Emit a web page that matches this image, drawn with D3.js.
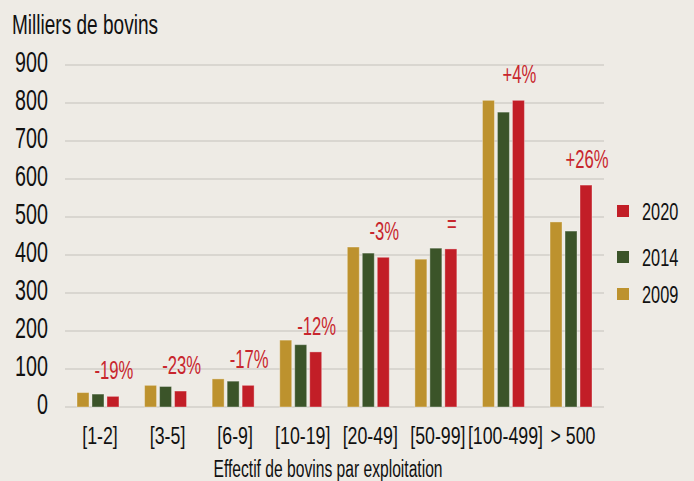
<!DOCTYPE html>
<html>
<head>
<meta charset="utf-8">
<script src="https://cdn.jsdelivr.net/npm/d3@7"></script>
<style>
  body { margin: 0; background: #eeebe5; }
  svg text { font-family: "Liberation Sans", Arimo, sans-serif; }
</style>
</head>
<body>
<div id="chart"></div>
<script>
// categories and series (milliers de bovins)
const categories = ["[1-2]", "[3-5]", "[6-9]", "[10-19]", "[20-49]", "[50-99]", "[100-499]", "> 500"];
const years = ["2009", "2014", "2020"];
const values2009 = [38, 57, 74, 176, 421, 389, 807, 487];
const values2014 = [34, 54, 68, 164, 405, 418, 776, 463];
const values2020 = [28, 42, 57, 145, 394, 416, 807, 584];
const changeLabels = ["-19%", "-23%", "-17%", "-12%", "-3%", "=", "+4%", "+26%"];
const yTicks = [0, 100, 200, 300, 400, 500, 600, 700, 800, 900];
const colors = { "2009": "#bd922e", "2014": "#3b5429", "2020": "#c21e27" };

const series = { "2009": values2009, "2014": values2014, "2020": values2020 };

const width = 694, height = 481;
const margin = { top: 65, right: 90, bottom: 74, left: 65 };
const innerW = width - margin.left - margin.right;
const innerH = height - margin.top - margin.bottom;

// the original uses a condensed face: squeeze text horizontally
const SX = 0.68;

const svg = d3.select("#chart")
  .append("svg")
  .attr("width", width)
  .attr("height", height)
  .style("background", "#eeebe5");

const g = svg.append("g")
  .attr("transform", `translate(${margin.left},${margin.top})`);

const y = d3.scaleLinear().domain([0, 900]).range([innerH, 0]);

const x = d3.scaleBand()
  .domain(categories)
  .range([12, 527])
  .paddingInner(0.379)
  .paddingOuter(0);

const xSub = d3.scaleBand()
  .domain(years)
  .range([0, x.bandwidth()])
  .paddingInner(0.2);

// grid lines
g.append("g")
  .selectAll("line")
  .data(yTicks)
  .join("line")
  .attr("x1", 0)
  .attr("x2", innerW)
  .attr("y1", d => y(d))
  .attr("y2", d => y(d))
  .attr("stroke", "#d9d6d0")
  .attr("stroke-width", 2);

// y tick labels
const yAxis = d3.axisLeft(y).tickValues(yTicks).tickSize(0).tickPadding(17);
const yg = g.append("g").call(yAxis);
yg.select(".domain").remove();
yg.selectAll("text")
  .attr("font-size", 29)
  .attr("font-family", null)
  .attr("x", -17 / SX)
  .attr("dy", "0.36em")
  .attr("y", -4)
  .attr("transform", `scale(${SX},1)`)
  .attr("fill", "#111");

// bars
const groups = g.append("g")
  .selectAll("g")
  .data(categories)
  .join("g")
  .attr("transform", d => `translate(${x(d)},0)`);

groups.selectAll("rect")
  .data((c, i) => years.map(yr => ({ year: yr, value: series[yr][i] })))
  .join("rect")
  .attr("x", d => xSub(d.year))
  .attr("width", xSub.bandwidth())
  .attr("y", d => y(d.value))
  .attr("height", d => y(0) - y(d.value))
  .attr("fill", d => colors[d.year])
  .attr("stroke", "rgba(255,255,255,0.35)")
  .attr("stroke-width", 1);

// change labels above 2020 bars
groups.append("text")
  .attr("transform", (c, i) =>
    `translate(${xSub("2020") + xSub.bandwidth() / 2 + 1},${y(values2020[i]) - 17}) scale(0.64,1)`)
  .attr("text-anchor", "middle")
  .attr("font-size", 26)
  .attr("fill", "#c8262d")
  .text((c, i) => changeLabels[i]);

// x tick labels
const xAxis = d3.axisBottom(x).tickSize(0).tickPadding(20);
const xg = g.append("g").attr("transform", `translate(2,${innerH})`).call(xAxis);
xg.select(".domain").remove();
xg.selectAll("text")
  .attr("font-size", 24)
  .attr("font-family", null)
  .attr("transform", "scale(0.74,1)")
  .attr("fill", "#111");

// titles
svg.append("text")
  .attr("transform", `translate(12,34) scale(${SX},1)`)
  .attr("font-size", 28)
  .attr("fill", "#111")
  .text("Milliers de bovins");

svg.append("text")
  .attr("transform", `translate(328,477) scale(${SX},1)`)
  .attr("text-anchor", "middle")
  .attr("font-size", 23)
  .attr("fill", "#111")
  .text("Effectif de bovins par exploitation");

// legend
const legendYears = ["2020", "2014", "2009"];
const legendY = [211, 257, 294];
const legend = svg.append("g")
  .selectAll("g")
  .data(legendYears)
  .join("g")
  .attr("transform", (d, i) => `translate(617,${legendY[i]})`);

legend.append("rect")
  .attr("x", 0)
  .attr("y", -6)
  .attr("width", 12)
  .attr("height", 12)
  .attr("fill", d => colors[d]);

legend.append("text")
  .attr("transform", `translate(25,0) scale(${SX},1)`)
  .attr("dy", "0.36em")
  .attr("font-size", 24)
  .attr("fill", "#111")
  .text(d => d);
</script>
</body>
</html>
